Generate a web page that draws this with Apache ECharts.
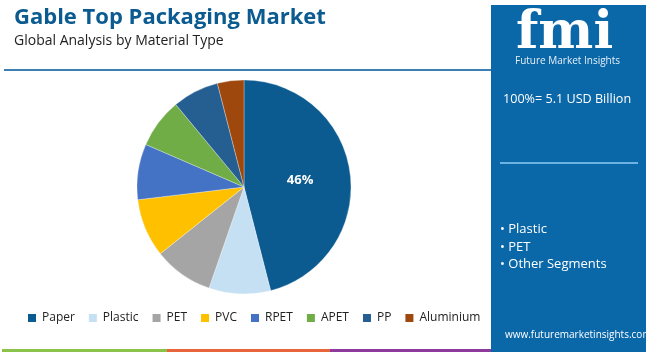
<!DOCTYPE html>
<html>
<head>
<meta charset="utf-8">
<script src="https://cdn.jsdelivr.net/npm/echarts@6/dist/echarts.min.js"></script>
<style>
  html, body { margin: 0; padding: 0; background: #fff; }
  #main { width: 650px; height: 352px; }
</style>
</head>
<body>
<div id="main"></div>
<script>
// 数据
var categories = ['Paper', 'Plastic', 'PET', 'PVC', 'RPET', 'APET', 'PP', 'Aluminium'];
var shares = [46, 9.3, 9, 8.8, 8.4, 7.5, 7, 4];
var colors = ['#0b5b91', '#c5e0f3', '#a5a5a5', '#ffc000', '#4472c4', '#70ad47', '#255e91', '#9e480e'];
var bullets = ['• Plastic', '• PET', '• Other Segments'];

var pieData = categories.map(function (name, i) {
  return { name: name, value: shares[i], itemStyle: { color: colors[i] } };
});

var myChart = echarts.init(document.getElementById('main'));

var graphics = [
  // 顶部分隔线
  { type: 'rect', shape: { x: 4, y: 69, width: 487, height: 2 }, style: { fill: '#3d7fb5' } },
  // 右侧蓝色面板
  { type: 'rect', shape: { x: 491, y: 5, width: 155, height: 347 }, style: { fill: '#0a67a8' } },
  { type: 'rect', shape: { x: 500, y: 162, width: 138, height: 2 }, style: { fill: '#6cb3e3' } },
  { type: 'text', left: 516, top: 8, style: { text: 'fmi', fill: '#fff', font: 'bold 52px "DejaVu Serif"' } },
  { type: 'text', left: 515, top: 56, style: { text: 'Future Market Insights', fill: '#e6f0f8', font: '10px "Open Sans"' } },
  { type: 'text', left: 503, top: 93, style: { text: '100%= 5.1 USD Billion', fill: '#fff', font: '12.6px "Open Sans"' } },
  { type: 'text', left: 505, top: 330, style: { text: 'www.futuremarketinsights.com', fill: '#fff', font: '10px "Open Sans"' } },
  // 底部彩条
  { type: 'rect', shape: { x: 2, y: 349, width: 165, height: 3 }, style: { fill: '#8bc34a' } },
  { type: 'rect', shape: { x: 167, y: 349, width: 163, height: 3 }, style: { fill: '#e8643a' } },
  { type: 'rect', shape: { x: 330, y: 349, width: 161, height: 3 }, style: { fill: '#8e3a9c' } }
];
bullets.forEach(function (b, i) {
  graphics.push({ type: 'text', left: 500, top: 223 + i * 17.5, style: { text: b, fill: '#fff', font: '13px "Open Sans"' } });
});

var option = {
  animation: false,
  title: {
    text: 'Gable Top Packaging Market',
    subtext: 'Global Analysis by Material Type',
    left: 9,
    top: 2,
    itemGap: 5,
    textStyle: { color: '#0b5b91', fontSize: 22, fontWeight: 'bold', fontFamily: 'Open Sans' },
    subtextStyle: { color: '#222', fontSize: 14, fontFamily: 'Open Sans' }
  },
  legend: {
    data: categories,
    left: 21,
    top: 307,
    itemWidth: 10,
    itemHeight: 10,
    itemGap: 12,
    icon: 'rect',
    textStyle: { color: '#222', fontSize: 12, fontFamily: 'Open Sans' }
  },
  graphic: graphics,
  series: [{
    type: 'pie',
    center: [244, 187],
    radius: 107,
    startAngle: 90,
    clockwise: true,
    data: pieData,
    itemStyle: { borderColor: '#fff', borderWidth: 0.3 },
    label: {
      position: 'inside',
      color: '#fff',
      fontSize: 13,
      fontWeight: 'bold',
      fontFamily: 'Open Sans',
      formatter: function (p) { return p.dataIndex === 0 ? Math.round(p.value) + '%' : ''; }
    },
    labelLine: { show: false }
  }]
};

myChart.setOption(option);
</script>
</body>
</html>
